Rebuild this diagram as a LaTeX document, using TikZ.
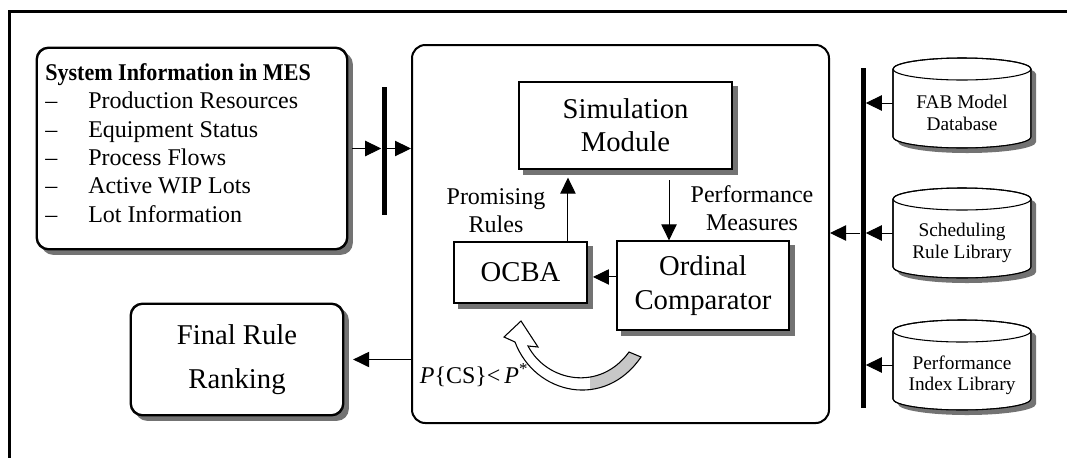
\documentclass[tikz,border=0pt]{standalone}
\usepackage{fontspec}
\setmainfont{Liberation Serif}
\usetikzlibrary{arrows.meta}

\definecolor{shadowgrey}{gray}{0.45}

% outline of a database drum centred at (#1,#2): 138 x 90, ellipse half-height 11
\newcommand\drumpath[2]{({#1-69},{#2-34}) -- ({#1-69},{#2+34})
    arc[start angle=180, end angle=360, x radius=51.75pt, y radius=8.25pt]
    -- ({#1+69},{#2-34})
    arc[start angle=0, end angle=180, x radius=51.75pt, y radius=8.25pt] -- cycle}

% drum with its grey shadow; #1 node name, (#2,#3) centre
\newcommand\dbdrum[3]{%
  \filldraw[fill=white, line width=0.8pt] \drumpath{#2}{#3};
  \begin{scope}[even odd rule]
    \clip (0,0) rectangle (1067,458) \drumpath{#2}{#3};
    \fill[shadowgrey] \drumpath{#2+5}{#3+5};
  \end{scope}
  \draw[line width=0.8pt] \drumpath{#2}{#3};
  \draw[line width=0.8pt] ({#2-69},{#3-34})
    arc[start angle=180, end angle=360, x radius=51.75pt, y radius=8.25pt];
  \node[cylbox] (#1) at (#2,#3) {};
}

% grey shadow outside box #2 (corner radius #1)
\newcommand\boxshade[2][0pt]{%
  \begin{scope}[even odd rule, rounded corners=#1]
    \clip (0,0) rectangle (1067,458) (#2.north west) rectangle (#2.south east);
    \fill[shadowgrey]
      ([xshift=3.8pt,yshift=-3.8pt]#2.north west) rectangle ([xshift=3.8pt,yshift=-3.8pt]#2.south east);
  \end{scope}
  \draw[line width=0.9pt, rounded corners=#1] (#2.north west) rectangle (#2.south east);}

% hollow bent arrow of the OCBA loop
\newcommand\bendarrow{(521,321) -- (504,337) -- (515,342)
  .. controls (535,395) and (605,410) .. (641,357) -- (629,352)
  .. controls (600,392) and (547,382) .. (528,346) -- (538,347) -- cycle}

\begin{document}
\begin{tikzpicture}[x=0.75pt,y=-0.75pt,
  sqbox/.style={draw, line width=0.9pt, fill=white, inner sep=0pt, align=center},
  rbox/.style={draw, line width=1.2pt, fill=white, rounded corners=9pt, inner sep=0pt, align=center},
  bigfont/.style={font=\fontsize{21.5pt}{25pt}\selectfont},
  lblfont/.style={font=\fontsize{18pt}{21.2pt}\selectfont},
  dbfont/.style={font=\fontsize{14.5pt}{16pt}\selectfont},
  arr/.style={-{Triangle[length=12pt,width=11.5pt]}, line width=0.75pt},
  busbar/.style={fill=black, draw=none, minimum width=3.75pt, inner sep=0pt},
  cylbox/.style={minimum width=103.5pt, minimum height=67.5pt, inner sep=0pt},
]
\useasboundingbox (0,0) rectangle (1067,458);

% frame
\draw[line width=2.25pt] (1067,11) -- (9.5,11) -- (9.5,458);

% system information
\node[rbox, minimum width=232.5pt, minimum height=150.75pt] (sys) at (192,148.5) {};
\boxshade[9pt]{sys}
\node[anchor=north west, inner sep=0pt, align=left, lblfont] (systext) at (45,63.5)
  {\scalebox{0.92}[1]{\textbf{System Information in MES}}\\
   \makebox[32.25pt][l]{–}Production Resources\\
   \makebox[32.25pt][l]{–}Equipment Status\\
   \makebox[32.25pt][l]{–}Process Flows\\
   \makebox[32.25pt][l]{–}Active WIP Lots\\
   \makebox[32.25pt][l]{–}Lot Information};

\node[busbar, minimum height=96pt] (bar1) at (384,151) {};

% main module
\node[draw, line width=1.5pt, rounded corners=10pt, minimum width=312.75pt,
      minimum height=283.5pt, inner sep=0pt] (main) at (620.5,234) {};

\node[sqbox, bigfont, minimum width=159.75pt, minimum height=65.25pt] (sim) at (625.5,125.5) {Simulation\\Module};
\boxshade{sim}
\node[sqbox, bigfont, minimum width=99.75pt, minimum height=45.75pt] (ocba) at (520.5,272.5) {OCBA};
\boxshade{ocba}
\node[sqbox, bigfont, minimum width=129pt, minimum height=66.75pt] (ordc) at (703,285.5) {Ordinal\\Comparator};
\boxshade{ordc}

\node[rbox, font=\fontsize{21.5pt}{33pt}\selectfont, minimum width=159pt, minimum height=83.25pt] (final) at (237,359.5) {Final Rule\\Ranking};
\boxshade[9pt]{final}

\node[lblfont, align=center] (promis) at (496,211) {Promising\\Rules};
\node[lblfont, align=center] (perfm) at (752,208) {Performance\\Measures};
\node[lblfont] (pcs) at (474,375) {\textit{P}\{CS\}<\,\textit{P}\textsuperscript{*}};

% right-hand bus and databases
\node[busbar, minimum height=255pt] (bar2) at (863,238) {};

\dbdrum{fab}{962}{103}
\dbdrum{sched}{962}{233}
\dbdrum{perf}{962}{365}
\node[dbfont, align=center] (fabtext) at ([yshift=-7.5pt]fab.center) {FAB Model\\Database};
\node[dbfont, align=center] (schedtext) at ([yshift=-7.5pt]sched.center) {Scheduling\\Rule Library};
\node[dbfont, align=center] (perftext) at ([yshift=-7.5pt]perf.center) {Performance\\Index Library};

% connectors
\draw[arr, shorten <=3.5pt] (sys.east) -- (sys.east -| bar1.west);
\draw[arr] (sys.east -| bar1.east) -- (sys.east -| main.west);

\path ([xshift=35.6pt]ocba.north) coordinate (ocbaout);
\draw[arr, shorten >=6pt] (ocbaout) -- (ocbaout |- sim.south);
\path ([xshift=-25.5pt]ordc.north) coordinate (ordin);
\draw[arr, shorten <=8pt] (ordin |- sim.south) -- (ordin);
\path ([yshift=6.4pt]ordc.west) coordinate (ordout);
\draw[arr, shorten >=4pt] (ordout) -- (ordout -| ocba.east);

\draw[arr, shorten >=7pt] (final.east -| main.west) -- (final.east);

\draw[arr] (fab.west) -- (fab.west -| bar2.east);
\draw[arr] (sched.west) -- (sched.west -| bar2.east);
\draw[arr] (perf.west) -- (perf.west -| bar2.east);
\draw[arr] (sched.west -| bar2.west) -- (sched.west -| main.east);

% OCBA loop arrow
\fill[white] \bendarrow;
\begin{scope}
  \clip (590,300) rectangle (660,420);
  \fill[black!22] \bendarrow;
\end{scope}
\draw[line width=0.8pt, line join=miter] \bendarrow;

\end{tikzpicture}
\end{document}
